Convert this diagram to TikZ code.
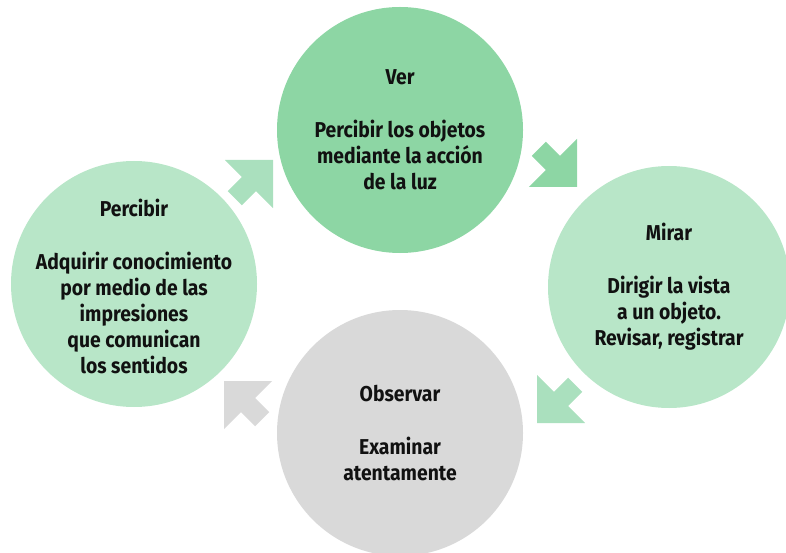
\documentclass[tikz,border=0pt]{standalone}
\usepackage{fontspec}
\setmainfont{Fira Sans}[FakeStretch=0.9]
\definecolor{vgreen}{RGB}{141,214,164}
\definecolor{lgreen}{RGB}{184,230,200}
\definecolor{agreen}{RGB}{170,224,190}
\definecolor{cgray}{RGB}{217,217,217}
\definecolor{ink}{RGB}{17,17,17}
\tikzset{
  disc/.style={circle, draw=none, inner sep=0pt},
  bubbletext/.style={inner sep=0pt, align=center, text=ink,
    font=\fontsize{21.5}{26}\selectfont\bfseries},
  pics/blockarrow/.style={code={
    \fill[#1] (0,0) -- (-34,34) -- (-34,10) -- (-54,10) -- (-54,-10) -- (-34,-10) -- (-34,-34) -- cycle;
  }}
}
\begin{document}
\begin{tikzpicture}[x=1pt,y=-1pt]
\useasboundingbox (0,0) rectangle (786,553);
\begin{scope}
\clip (0,0) rectangle (786,553);
\node[disc, fill=vgreen, minimum size=246pt] (ver) at (400,130) {};
\node[disc, fill=lgreen, minimum size=242pt] (mirar) at (669,287) {};
\node[disc, fill=cgray, minimum size=246pt] (observar) at (400,433) {};
\node[disc, fill=lgreen, minimum size=246pt] (percibir) at (134,284) {};
\end{scope}
\node[bubbletext] (vertxt) at (ver.center)
  {Ver\\[27pt]Percibir los objetos\\mediante la acción\\de la luz};
\node[bubbletext] (mirartxt) at (mirar.center)
  {Mirar\\[27pt]Dirigir la vista\\a un objeto.\\Revisar, registrar};
\node[bubbletext] (observartxt) at (observar.center)
  {Observar\\[27pt]Examinar\\atentamente};
\node[bubbletext] (percibirtxt) at ([yshift=-2pt]percibir.center)
  {Percibir\\[27pt]Adquirir conocimiento\\por medio de las\\impresiones\\que comunican\\los sentidos};
\coordinate (tipA) at (273,160);
\coordinate (tipB) at (577,187);
\coordinate (tipC) at (537,423);
\coordinate (tipD) at (224,381);
\pic[rotate=45] at (tipA) {blockarrow=agreen};
\pic[rotate=-45] at (tipB) {blockarrow=vgreen};
\pic[rotate=-135] at (tipC) {blockarrow=agreen};
\pic[rotate=135] at (tipD) {blockarrow=cgray};
\end{tikzpicture}
\end{document}
